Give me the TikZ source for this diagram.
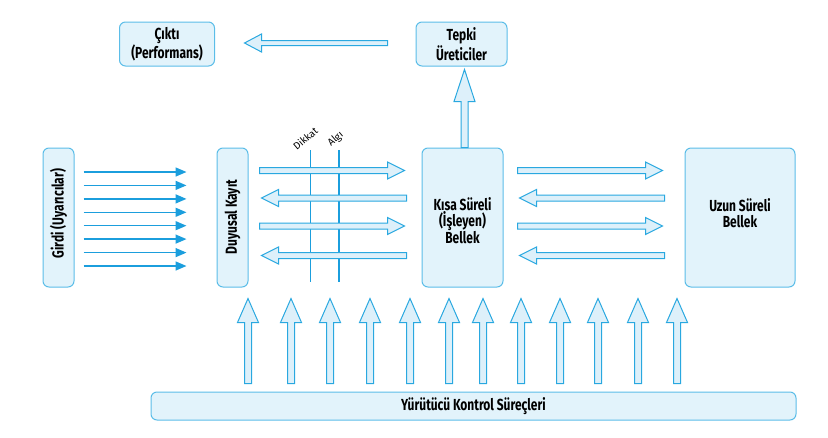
\documentclass[tikz,border=0pt]{standalone}
\usepackage{fontspec}
\setmainfont{Fira Sans}[FakeStretch=0.75]
\newfontfamily\labelfont{Fira Sans}[Kerning=Off]
\usetikzlibrary{calc,arrows.meta}
\definecolor{boxline}{HTML}{5BBDE8}
\definecolor{boxfill}{HTML}{E2F3FB}
\definecolor{arrline}{HTML}{29A8E0}
\definecolor{arrfill}{HTML}{DDF0FA}
\definecolor{lineblue}{HTML}{1B9EDD}
\begin{document}
\begin{tikzpicture}[x=1pt,y=-1pt,
  box/.style={draw=boxline, fill=boxfill, line width=1pt, rounded corners=6pt, inner sep=0pt},
  txt/.style={align=center, font=\bfseries\fontsize{16}{15.7}\selectfont, inner sep=0pt},
  thinarr/.style={draw=lineblue, line width=1.5pt, -{Triangle[length=11pt,width=9pt]}},
  guide/.style={draw=lineblue, line width=1.5pt},
  small/.style={font=\labelfont\fontsize{10}{11}\selectfont, inner sep=0pt},
  hollow/.style args={#1/#2/#3}{draw=arrline, fill=arrfill, line width=1pt, line join=miter,
    to path={
      ($(\tikztostart)!#1!90:(\tikztotarget)$)
      -- ($($(\tikztotarget)!#3!(\tikztostart)$)!#1!-90:(\tikztostart)$)
      -- ($($(\tikztotarget)!#3!(\tikztostart)$)!#2!-90:(\tikztostart)$)
      -- (\tikztotarget)
      -- ($($(\tikztotarget)!#3!(\tikztostart)$)!#2!90:(\tikztostart)$)
      -- ($($(\tikztotarget)!#3!(\tikztostart)$)!#1!90:(\tikztostart)$)
      -- ($(\tikztostart)!#1!-90:(\tikztotarget)$)
      -- cycle}},
  ]
\useasboundingbox (0,0) rectangle (828,437);

% boxes
\node[box, minimum width=95pt, minimum height=44pt] (cikti) at (167,44) {};
\node[txt] at (cikti.center) {Çıktı\\(Performans)};
\node[box, minimum width=91pt, minimum height=44pt] (tepki) at (461.5,44) {};
\node[txt] at (tepki.center) {Tepki\\Üreticiler};
\node[box, minimum width=31pt, minimum height=139pt] (girdi) at (58.5,217.5) {};
\node[txt, rotate=90] at ($(girdi.center)+(0,-4)$) {Girdi (Uyarıcılar)};
\node[box, minimum width=31pt, minimum height=139pt] (duy) at (232.5,217.5) {};
\node[txt, rotate=90] at ($(duy.center)+(0,-0.5)$) {Duyusal Kayıt};
\node[box, minimum width=81pt, minimum height=139pt] (kisa) at (462.5,217.5) {};
\node[txt] at ($(kisa.center)+(0,3)$) {Kısa Süreli\\(İşleyen)\\Bellek};
\node[box, minimum width=110pt, minimum height=139pt] (uzun) at (740,217.5) {};
\node[txt] at ($(uzun.center)+(0,-4.5)$) {Uzun Süreli\\Bellek};
\node[box, minimum width=645pt, minimum height=28pt] (yurut) at (473.5,406) {};
\node[txt] at (yurut.center) {Yürütücü Kontrol Süreçleri};

% input arrows
\foreach \yy in {172,185.4,198.9,212.3,225.7,239.1,252.6,266}{
  \draw[thinarr] ($(girdi.east|-0,\yy)+(9,0)$) -- ($(duy.west|-0,\yy)+(-30,0)$);
}

% attention / perception lines
\coordinate (dtop) at (310.7,150);
\coordinate (dbot) at (310.7,282);
\coordinate (atop) at (339,150);
\coordinate (abot) at (339,282);
\draw[guide] (dtop) -- (dbot);
\draw[guide] (atop) -- (abot);
\node[small, rotate=40] (dik) at (305.3,138.7) {Dikkat};
\node[small, rotate=40] (alg) at (335.7,139.2) {Algı};

% sensory <-> short-term
\foreach \yy in {170.5,226}{
  \draw[hollow=3pt/8.5pt/17pt] ($(duy.east|-0,\yy)+(11,0)$) to ($(kisa.west|-0,\yy)+(-17,0)$);
}
\foreach \yy in {198,255.5}{
  \draw[hollow=3pt/8.5pt/17pt] ($(kisa.west|-0,\yy)+(-15,0)$) to ($(duy.east|-0,\yy)+(13,0)$);
}
% short-term <-> long-term
\foreach \yy in {170.5,226}{
  \draw[hollow=3pt/8.5pt/17pt] ($(kisa.east|-0,\yy)+(14,0)$) to ($(uzun.west|-0,\yy)+(-22,0)$);
}
\foreach \yy in {198,255.5}{
  \draw[hollow=3pt/8.5pt/17pt] ($(uzun.west|-0,\yy)+(-20,0)$) to ($(kisa.east|-0,\yy)+(16,0)$);
}

% short-term -> response generators
\draw[hollow=3.5pt/10.5pt/32pt] ($(kisa.north)+(2,0)$) to ($(tepki.south)+(3,3)$);
% response generators -> output
\draw[hollow=2.5pt/9pt/17pt] ($(tepki.west)+(-28,-1)$) to ($(cikti.east)+(29.5,-1)$);

% executive control arrows
\foreach \xx in {248,291,330,370,410,449,483,521,560,598,638,677}{
  \draw[hollow=3.5pt/10.5pt/24pt] ($(yurut.north-|\xx,0)+(0,-8)$) to ($(yurut.north-|\xx,0)+(0,-93)$);
}
\end{tikzpicture}
\end{document}
